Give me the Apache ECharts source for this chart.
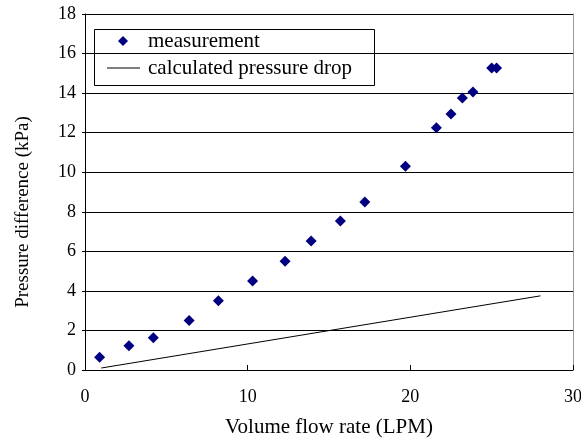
<!DOCTYPE html>
<html>
<head>
<meta charset="utf-8">
<script src="https://cdn.jsdelivr.net/npm/echarts@6/dist/echarts.min.js"></script>
<style>
  html, body { margin: 0; padding: 0; background: #fff; }
  #chart { width: 581px; height: 438px; }
</style>
</head>
<body>
<div id="chart"></div>
<script>
// measured points: flow rate (LPM) and pressure difference (kPa)
var flowRate = [0.9, 2.7, 4.2, 6.4, 8.2, 10.3, 12.3, 13.9, 15.7, 17.2, 19.7, 21.6, 22.5, 23.2, 23.85, 25.0, 25.3];
var pressure = [0.65, 1.22, 1.63, 2.5, 3.5, 4.5, 5.5, 6.52, 7.53, 8.5, 10.3, 12.25, 12.95, 13.75, 14.05, 15.27, 15.27];

// calculated pressure drop line (end points)
var calcFlow = [1, 28];
var calcDrop = [0.1, 3.75];

var xTicks = [0, 10, 20, 30];
var yTicks = [0, 2, 4, 6, 8, 10, 12, 14, 16, 18];

var measured = [];
for (var i = 0; i < flowRate.length; i++) {
    measured.push([flowRate[i], pressure[i]]);
}
var calculated = [];
for (var j = 0; j < calcFlow.length; j++) {
    calculated.push([calcFlow[j], calcDrop[j]]);
}

var font = 'Liberation Serif';
var chart = echarts.init(document.getElementById('chart'));

// legend text style, shared by both legend rows
function legendText(gap) {
    return { fontFamily: font, fontSize: 21, lineHeight: 22, color: '#000', padding: [0, 0, 0, gap] };
}

chart.setOption({
    animation: false,
    textStyle: { fontFamily: font },
    grid: { left: 85, right: 8, top: 14, bottom: 68, outerBoundsMode: 'none', containLabel: false },
    // frame round the two legend rows
    graphic: [{
        type: 'rect',
        left: 92,
        top: 27,
        shape: { width: 280, height: 56 },
        style: { fill: 'none', stroke: '#000', lineWidth: 1 },
        z: 100
    }],
    legend: [
        {
            left: 118,
            top: 30,
            padding: 0,
            selectedMode: false,
            itemWidth: 10,
            itemHeight: 10,
            textStyle: legendText(15),
            data: [{ name: 'measurement', icon: 'diamond' }]
        },
        {
            left: 107,
            top: 57,
            padding: 0,
            selectedMode: false,
            itemWidth: 33,
            itemHeight: 1,
            textStyle: legendText(3),
            data: [{ name: 'calculated pressure drop', icon: 'rect' }]
        }
    ],
    xAxis: {
        type: 'value',
        min: xTicks[0],
        max: xTicks[xTicks.length - 1],
        interval: 10,
        name: 'Volume flow rate (LPM)',
        nameLocation: 'middle',
        nameGap: 47,
        nameTextStyle: { fontFamily: font, fontSize: 21, color: '#000' },
        axisLine: { lineStyle: { color: '#000', width: 1 } },
        axisTick: { show: true, inside: true, length: 5, lineStyle: { color: '#000' } },
        axisLabel: { fontFamily: font, fontSize: 18, color: '#000', margin: 18 },
        splitLine: { show: false }
    },
    yAxis: [
        {
            type: 'value',
            min: yTicks[0],
            max: yTicks[yTicks.length - 1],
            interval: 2,
            name: 'Pressure difference (kPa)',
            nameLocation: 'middle',
            nameGap: 52,
            nameTextStyle: { fontFamily: font, fontSize: 19, color: '#000', padding: [0, 40, 0, 0] },
            axisLine: { show: true, lineStyle: { color: '#000', width: 1 } },
            axisTick: { show: true, length: 3, lineStyle: { color: '#000' } },
            axisLabel: { fontFamily: font, fontSize: 18, color: '#000', margin: 9 },
            splitLine: { show: true, lineStyle: { color: '#000', width: 1 } }
        },
        {
            // right frame of the plot area
            type: 'value',
            position: 'right',
            min: yTicks[0],
            max: yTicks[yTicks.length - 1],
            interval: 2,
            axisLine: { show: true, lineStyle: { color: '#999', width: 1 } },
            axisTick: { show: false },
            axisLabel: { show: false },
            splitLine: { show: false }
        }
    ],
    series: [
        {
            name: 'measurement',
            type: 'scatter',
            symbol: 'diamond',
            symbolSize: [11, 11],
            itemStyle: { color: '#000080', opacity: 1 },
            data: measured
        },
        {
            name: 'calculated pressure drop',
            type: 'line',
            symbol: 'none',
            itemStyle: { color: '#000' },
            lineStyle: { color: '#000', width: 1 },
            data: calculated
        }
    ]
});
</script>
</body>
</html>
